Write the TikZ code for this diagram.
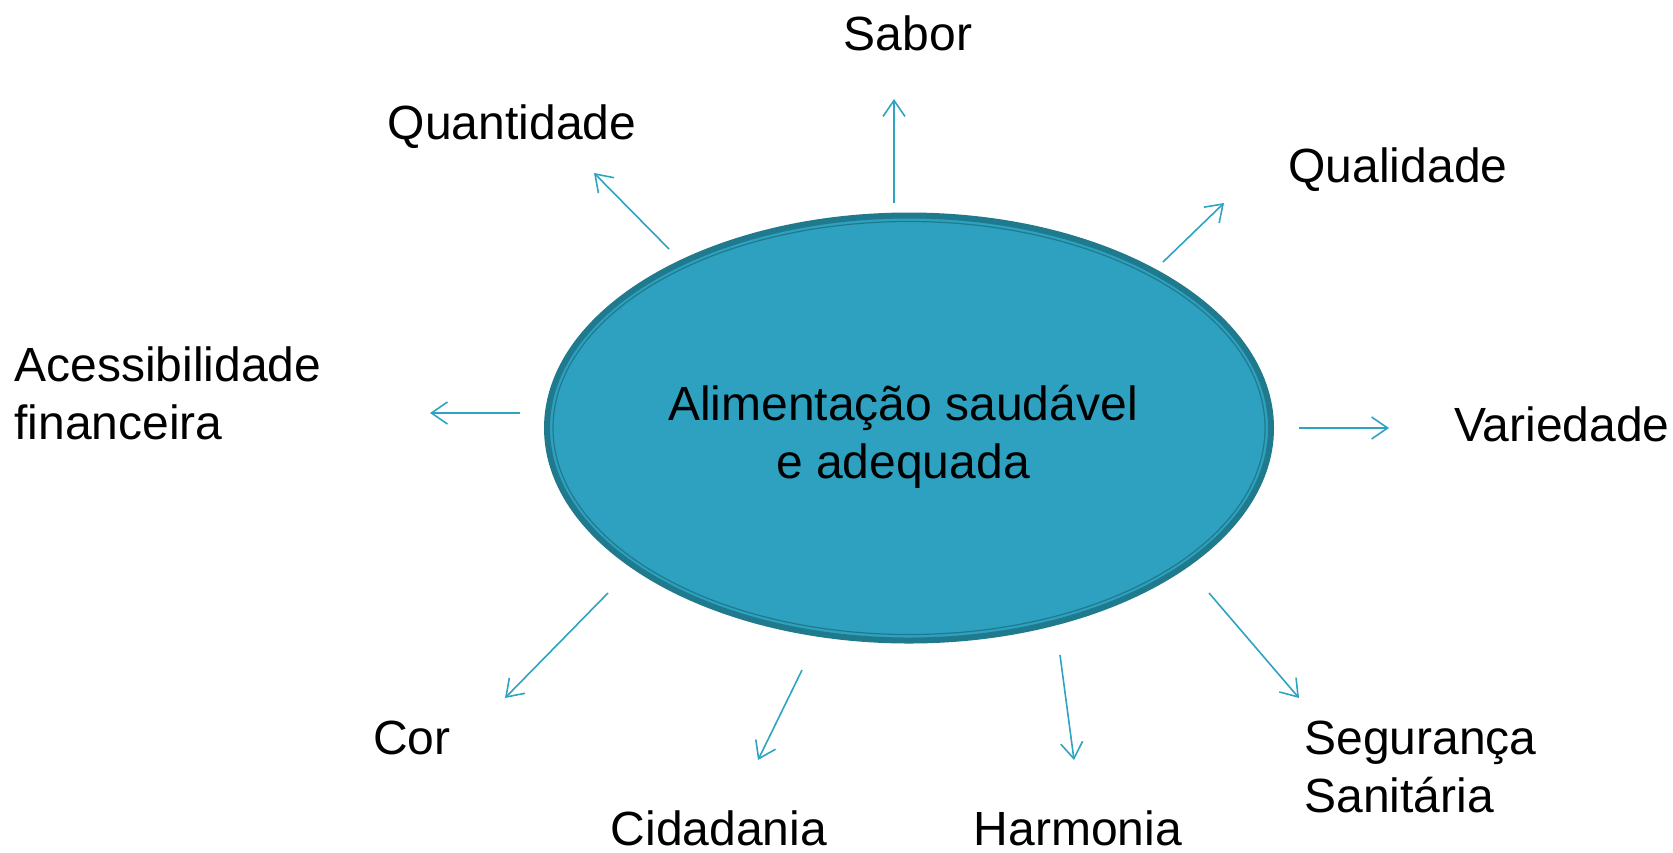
\documentclass[tikz,border=0pt]{standalone}
\usepackage{fontspec}
\setmainfont{Liberation Sans}
\usetikzlibrary{shapes.geometric,arrows.meta}
\definecolor{ellfill}{HTML}{2DA1BF}
\definecolor{elldark}{HTML}{1F7A8E}
\definecolor{arrowc}{HTML}{2EA3C2}
\begin{document}
\begin{tikzpicture}[x=0.5pt,y=-0.5pt,
  lbl/.style={font=\fontsize{24}{29}\selectfont, inner sep=0pt, text=black},
  conn/.style={draw=arrowc, line width=0.8pt, -{Straight Barb[length=8pt,width=11pt,line width=0.8pt]}}]
\useasboundingbox (0,0) rectangle (1673,852);
% ellipse
\node[ellipse, draw=elldark, fill=ellfill, line width=3pt, minimum width=362pt, minimum height=212.5pt, inner sep=0pt] (ell) at (909,428) {};
\node[ellipse, draw=elldark, line width=0.6pt, minimum width=356pt, minimum height=206.5pt, inner sep=0pt] (ellin) at (909,428) {};
\node[lbl, align=center] (ctext) at (903,437) {Alimentação saudável\\e adequada};
% labels
\node[lbl] (sabor) at (908,33) {Sabor};
\node[lbl] (quant) at (512,127) {Quantidade};
\node[lbl] (qual) at (1398,170) {Qualidade};
\node[lbl, anchor=west, align=left] (acess) at (14,393) {Acessibilidade\\financeira};
\node[lbl, anchor=west] (var) at (1454,424) {Variedade};
\node[lbl] (cor) at (412,738) {Cor};
\node[lbl] (cid) at (719,828) {Cidadania};
\node[lbl] (harm) at (1078,828) {Harmonia};
\node[lbl, anchor=west, align=left] (seg) at (1304,767) {Segurança\\Sanitária};
% arrow coordinates
\coordinate (s1) at (894,203); \coordinate (e1) at (894,99);
\coordinate (s2) at (669,249); \coordinate (e2) at (594,173);
\coordinate (s3) at (1163,262); \coordinate (e3) at (1224,203);
\coordinate (s4) at (520,413); \coordinate (e4) at (430,413);
\coordinate (s5) at (1299,428); \coordinate (e5) at (1389,428);
\coordinate (s6) at (608,593); \coordinate (e6) at (505,698);
\coordinate (s7) at (802,670); \coordinate (e7) at (758,760);
\coordinate (s8) at (1060,655); \coordinate (e8) at (1074,760);
\coordinate (s9) at (1209,593); \coordinate (e9) at (1299,698);
\foreach \i in {1,...,9} { \draw[conn] (s\i) -- (e\i); }
\end{tikzpicture}
\end{document}
